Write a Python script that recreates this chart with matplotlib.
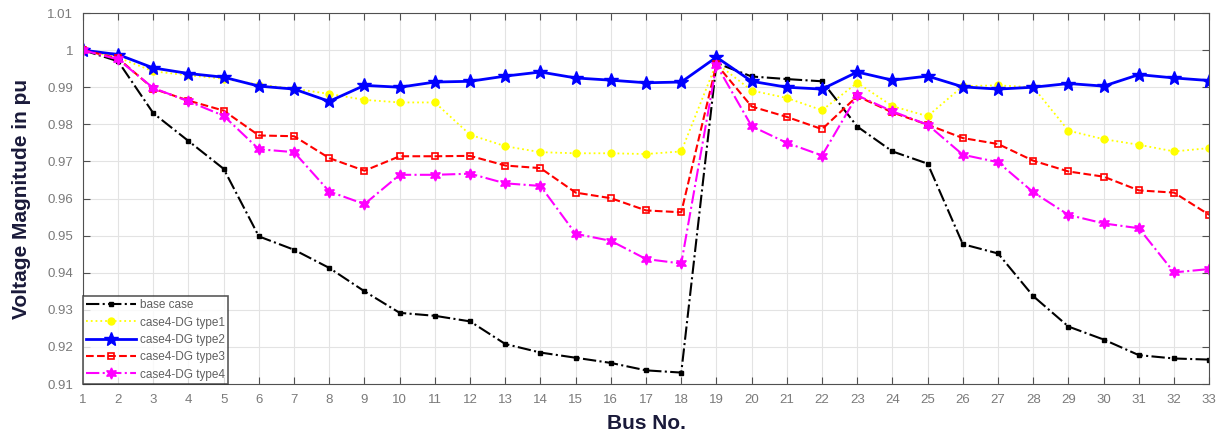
import numpy as np
import matplotlib
matplotlib.use('Agg')
import matplotlib.pyplot as plt

plt.rcParams['font.family'] = ['Liberation Sans', 'DejaVu Sans']

# bus numbers
bus = list(range(1, 34))

# voltage profiles
base_case = [1.0, 0.997, 0.983, 0.9755, 0.968, 0.9498, 0.9462, 0.9413, 0.935,
             0.9292, 0.9284, 0.9269, 0.9208, 0.9185, 0.9171, 0.9157, 0.9137,
             0.9131, 0.9965, 0.9929, 0.9922, 0.9916, 0.9794, 0.9727, 0.9694,
             0.9477, 0.9452, 0.9337, 0.9255, 0.9220, 0.9178, 0.9169, 0.9166]
dg_type1 = [1.0, 0.998, 0.9943, 0.9932, 0.9923, 0.9907, 0.9896, 0.9882, 0.9866,
            0.9859, 0.9859, 0.9772, 0.9741, 0.9725, 0.9722, 0.9722, 0.9720,
            0.9727, 0.9965, 0.9891, 0.9871, 0.9838, 0.9912, 0.9849, 0.9822,
            0.9903, 0.9905, 0.9900, 0.9783, 0.9760, 0.9745, 0.9727, 0.9736]
dg_type2 = [1.0, 0.9988, 0.9952, 0.9937, 0.9927, 0.9903, 0.9895, 0.9862, 0.9905,
            0.9900, 0.9914, 0.9916, 0.9930, 0.9941, 0.9925, 0.9919, 0.9912,
            0.9914, 0.9981, 0.9916, 0.9900, 0.9895, 0.9941, 0.9919, 0.9930,
            0.9901, 0.9895, 0.9900, 0.9910, 0.9903, 0.9934, 0.9925, 0.9918]
dg_type3 = [1.0, 0.9978, 0.9896, 0.9864, 0.9837, 0.9770, 0.9768, 0.9709, 0.9675,
            0.9714, 0.9714, 0.9715, 0.9689, 0.9682, 0.9616, 0.9601, 0.9568,
            0.9563, 0.9962, 0.9848, 0.9820, 0.9787, 0.9876, 0.9832, 0.9799,
            0.9763, 0.9747, 0.9702, 0.9673, 0.9659, 0.9622, 0.9616, 0.9556]
dg_type4 = [1.0, 0.9975, 0.9898, 0.9862, 0.9823, 0.9733, 0.9725, 0.9619, 0.9585,
            0.9664, 0.9664, 0.9667, 0.9641, 0.9634, 0.9505, 0.9486, 0.9437,
            0.9425, 0.9960, 0.9795, 0.9750, 0.9716, 0.9878, 0.9835, 0.9799,
            0.9718, 0.9698, 0.9617, 0.9556, 0.9533, 0.9520, 0.9401, 0.9410]

labels = ['base case', 'case4-DG type1', 'case4-DG type2', 'case4-DG type3', 'case4-DG type4']
yticks = [0.91, 0.92, 0.93, 0.94, 0.95, 0.96, 0.97, 0.98, 0.99, 1.0, 1.01]
ytick_labels = ['0.91', '0.92', '0.93', '0.94', '0.95', '0.96', '0.97', '0.98', '0.99', '1', '1.01']

fig = plt.figure(figsize=(12.19, 4.34), dpi=100)
ax = fig.add_axes([0.068, 0.115, 0.924, 0.855])

ax.plot(bus, base_case, '-.', color='black', lw=1.5, marker='s', ms=3.5, label=labels[0])
ax.plot(bus, dg_type1, ':', color='yellow', lw=1.3, marker='o', ms=5, label=labels[1])
ax.plot(bus, dg_type2, '-', color='blue', lw=2, marker='*', ms=10, label=labels[2])
ax.plot(bus, dg_type3, '--', color='red', lw=1.5, marker='s', ms=5, mfc='none', mew=1.2, label=labels[3])
ax.plot(bus, dg_type4, '-.', color='magenta', lw=1.5, marker=(6, 1, 0), ms=8, label=labels[4])

ax.set_xlim(1, 33)
ax.set_ylim(0.91, 1.01)
ax.set_xticks(bus)
ax.set_yticks(yticks)
ax.set_yticklabels(ytick_labels)
ax.grid(True, color='#e3e3e3', lw=0.8)
ax.set_axisbelow(True)
ax.tick_params(direction='in', top=True, right=True, labelsize=9.5, labelcolor='#7a7a7a',
               color='#505050', length=5, width=0.8, pad=7)
for s in ax.spines.values():
    s.set_color('#505050')
    s.set_linewidth(0.8)

ax.set_xlabel('Bus No.', fontsize=15, fontweight='bold', color='#1a1a3a', labelpad=6)
ax.set_ylabel('Voltage Magnitude in pu', fontsize=15, fontweight='bold', color='#1a1a3a', labelpad=12)

leg = ax.legend(loc='lower left', fontsize=8.5, frameon=True, fancybox=False,
                borderaxespad=0, handlelength=4.2, labelspacing=0.45,
                borderpad=0.3, handletextpad=0.3)
leg.get_frame().set_edgecolor('#303030')
leg.get_frame().set_linewidth(1.2)
for t in leg.get_texts():
    t.set_color('#606060')

fig.savefig('out.png', dpi=100)
